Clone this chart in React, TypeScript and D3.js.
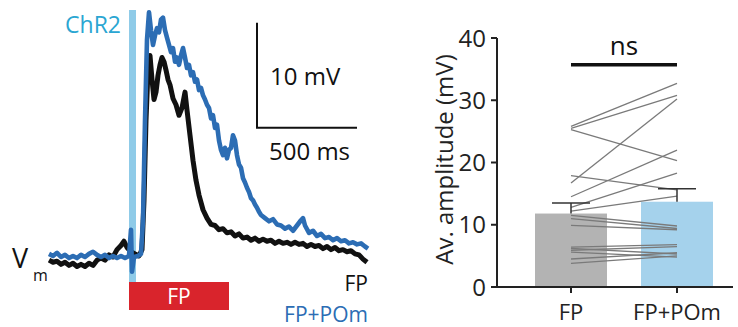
import React from 'react';
import * as d3 from 'd3';

// ---- trace data (time in ms, Vm in mV relative to baseline) ----
const traceTimes = [
  0, 20, 40, 60, 80, 100, 120, 140, 160, 180, 200, 220, 240, 260, 280, 300, 320, 340, 360, 375,
  390, 410, 430, 450, 465, 475, 485, 495, 505, 515, 525, 535, 545, 555, 565, 575, 585, 595, 605, 620,
  635, 650, 665, 680, 690, 705, 720, 735, 750, 770, 790, 810, 830, 850, 870, 890, 910, 930, 950, 970,
  990, 1010, 1030, 1050, 1070, 1090, 1110, 1130, 1150, 1170, 1190, 1210, 1230, 1250, 1270, 1290, 1310, 1330, 1350, 1370,
  1390, 1410, 1430, 1450, 1470, 1490, 1510, 1530, 1550, 1570, 1590,
];
const fpTrace = [
  -0.3, -0.5, -0.4, -0.7, -0.5, -0.8, -0.6, -0.9, -0.7, -0.9, -0.6, -0.8, -0.3, -0.1, -0.3, 0.2, 0, 0.7, 1.1, 1.5,
  0.9, 0.5, 0.3, 0.1, 0.7, 5.4, 13, 17.8, 19.2, 16.9, 15, 15.7, 17.3, 18.3, 19, 18.6, 17.8, 16.9, 16.4, 15.1,
  14.5, 13.5, 14.2, 15.7, 14, 11.6, 9.2, 7.3, 5.9, 4.5, 3.7, 3.1, 3.0, 2.6, 2.7, 2.3, 2.4, 2.0, 2.2, 1.8,
  1.9, 1.6, 1.8, 1.5, 1.7, 1.5, 1.6, 1.3, 1.5, 1.3, 1.4, 1.2, 1.4, 1.2, 1.3, 1.0, 1.2, 1.0, 1.1, 0.8,
  1.0, 0.7, 0.9, 0.6, 0.7, 0.5, 0.6, 0.3, 0.2, -0.2, -0.5,
];

const pomTimes = [
  0, 20, 40, 60, 80, 100, 120, 140, 160, 180, 200, 220, 240, 260, 280, 300, 320, 340, 360, 380,
  400, 410, 415, 425, 445, 460, 470, 480, 490, 500, 510, 520, 530, 540, 550, 560, 570, 580, 590, 600,
  610, 620, 630, 640, 650, 660, 670, 680, 690, 700, 710, 720, 730, 740, 750, 760, 770, 780, 790, 800,
  810, 820, 830, 840, 850, 860, 870, 880, 890, 900, 910, 920, 930, 940, 950, 960, 970, 980, 990, 1000,
  1010, 1020, 1030, 1040, 1050, 1060, 1080, 1100, 1120, 1140, 1160, 1180, 1200, 1220, 1240, 1260, 1270, 1280, 1300, 1320,
  1340, 1360, 1380, 1400, 1420, 1440, 1460, 1480, 1500, 1520, 1540, 1560, 1580, 1595,
];
const pomTrace = [
  0.3, 0.1, 0.4, 0, 0.2, -0.1, 0.1, -0.1, 0.2, 0, 0.3, 0.5, 0.2, 0, 0.2, -0.1, 0.1, -0.1, 0.1, -0.1,
  0.1, 2.6, -1.4, 0, 0.1, 0.3, 3.5, 13, 20.7, 23.3, 21.6, 20.2, 21.1, 21.8, 21.4, 22.6, 22.8, 21.6, 20.9, 20.2,
  19.5, 19.9, 18.6, 19.0, 18.3, 19.2, 19.9, 19.0, 18, 18.3, 17.3, 17.6, 16.7, 16.9, 15.9, 16.1, 15.4, 15.0, 14.5, 14.2,
  13.2, 13.5, 12.3, 12.6, 11.1, 10.2, 9.7, 10.4, 9.4, 10.2, 10.4, 11.6, 11.1, 9.7, 8.8, 8.5, 7.5, 7.1, 6.6, 6.2,
  5.6, 5.4, 5.0, 4.7, 4.3, 4.0, 3.7, 3.4, 3.6, 3.1, 3.0, 2.7, 2.9, 2.5, 3.0, 3.5, 3.7, 3.0, 2.3, 2.5,
  2.0, 2.2, 1.8, 1.9, 1.6, 1.8, 1.5, 1.6, 1.3, 1.4, 1.2, 1.3, 1.0, 0.8,
];

// ---- summary data ----
const conditions = ['FP', 'FP+POm'];
const meanAmp = [11.8, 13.7];
const semTop = [13.5, 15.8];
const fpCells = [25.8, 25.5, 25.3, 16.7, 17.9, 14.5, 12.8, 12.2, 11.5, 11.0, 9.9, 6.4, 6.2, 5.9, 5.6, 4.5, 3.8];
const pomCells = [32.7, 30.8, 20.3, 30.2, 15.6, 22.0, 18.3, 14.6, 9.8, 9.4, 9.2, 6.8, 5.3, 6.5, 4.8, 5.5, 5.0];
const yTicks = [0, 10, 20, 30, 40];

const FONT = '"Open Sans", sans-serif';

export default function App() {
  // trace panel scales
  const x = d3.scaleLinear().domain([0, 1600]).range([49, 369]);
  const y = d3.scaleLinear().domain([-3, 24]).range([288.5, 5]);
  const line = d3.line<[number, number]>().x(d => x(d[0])).y(d => y(d[1]));
  const fpPts = traceTimes.map((t, i) => [t, fpTrace[i]] as [number, number]);
  const pomPts = pomTimes.map((t, i) => [t, pomTrace[i]] as [number, number]);

  // bar panel scales
  const bx = d3.scalePoint<string>().domain(conditions).range([571, 677]);
  const by = d3.scaleLinear().domain([0, 40]).range([287, 38]);
  const barW = 72;
  const capW = 38;

  const sbT = 1040, sbV = 12.3;

  return (
    <svg width={738} height={327} style={{ position: 'absolute', left: 0, top: 0, background: '#fff' }} fontFamily={FONT}>
      {/* ChR2 light pulse */}
      <rect x={x(400)} y={10} width={x(435) - x(400)} height={272} fill="#8fcbe8" />
      <text x={121} y={33} textAnchor="end" fontSize={23} fill="#2aa6d2">ChR2</text>

      {/* traces */}
      <path d={line(fpPts) ?? ''} fill="none" stroke="#111" strokeWidth={5} strokeLinejoin="round" />
      <path d={line(pomPts) ?? ''} fill="none" stroke="#2c6db4" strokeWidth={4.6} strokeLinejoin="round" />

      {/* FP stimulus bar */}
      <rect x={x(400)} y={282} width={x(900) - x(400)} height={28} fill="#d9242c" />
      <text x={(x(400) + x(900)) / 2} y={304} textAnchor="middle" fontSize={21} fill="#fff">FP</text>

      {/* scale bar */}
      <path d={`M${x(sbT)},${y(sbV + 10)}V${y(sbV)}H${x(sbT + 500)}`} fill="none" stroke="#111" strokeWidth={2} />
      <text x={x(sbT) + 13} y={85} fontSize={24} fill="#111">10 mV</text>
      <text x={x(sbT) + 12} y={160} fontSize={24} fill="#111">500 ms</text>

      {/* labels */}
      <text x={12} y={268} fontSize={27} fill="#111">V</text>
      <text x={33} y={281} fontSize={16} fill="#111">m</text>
      <text x={368} y={291} textAnchor="end" fontSize={21} fill="#111">FP</text>
      <text x={368} y={322} textAnchor="end" fontSize={21} fill="#2c6db4">FP+POm</text>

      {/* bars */}
      {conditions.map((c, i) => (
        <rect key={c} x={bx(c)! - barW / 2} y={by(meanAmp[i])} width={barW} height={by(0) - by(meanAmp[i])}
          fill={i === 0 ? '#b3b3b3' : '#a5d2ec'} />
      ))}
      {/* paired cells */}
      {fpCells.map((v, i) => (
        <line key={i} x1={bx('FP')} y1={by(v)} x2={bx('FP+POm')} y2={by(pomCells[i])} stroke="#7a7a7a" strokeWidth={1.3} />
      ))}
      {/* sem */}
      {conditions.map((c, i) => (
        <g key={c} stroke="#333" strokeWidth={1.5}>
          <line x1={bx(c)} x2={bx(c)} y1={by(meanAmp[i])} y2={by(semTop[i])} />
          <line x1={bx(c)! - capW / 2} x2={bx(c)! + capW / 2} y1={by(semTop[i])} y2={by(semTop[i])} />
        </g>
      ))}

      {/* axes */}
      <line x1={497} x2={497} y1={by(40)} y2={by(0)} stroke="#222" strokeWidth={2} />
      <line x1={493} x2={733} y1={by(0)} y2={by(0)} stroke="#222" strokeWidth={2} />
      {yTicks.map(t => (
        <g key={t}>
          <line x1={491} x2={497} y1={by(t)} y2={by(t)} stroke="#222" strokeWidth={2} />
          <text x={486} y={by(t) + 8.5} textAnchor="end" fontSize={24} fill="#222">{t}</text>
        </g>
      ))}
      {conditions.map(c => (
        <g key={c}>
          <line x1={bx(c)} x2={bx(c)} y1={by(0)} y2={by(0) + 6} stroke="#222" strokeWidth={2} />
          <text x={bx(c)} y={320} textAnchor="middle" fontSize={22} fill="#222">{c}</text>
        </g>
      ))}
      <text transform={`translate(453,${(by(0) + by(40)) / 2 - 3}) rotate(-90)`} textAnchor="middle" fontSize={24} fill="#222">
        Av. amplitude (mV)
      </text>

      {/* significance */}
      <line x1={bx('FP')} x2={bx('FP+POm')} y1={by(35.7)} y2={by(35.7)} stroke="#111" strokeWidth={3.5} />
      <text x={(bx('FP')! + bx('FP+POm')!) / 2} y={55} textAnchor="middle" fontSize={26} fill="#111">ns</text>
    </svg>
  );
}
